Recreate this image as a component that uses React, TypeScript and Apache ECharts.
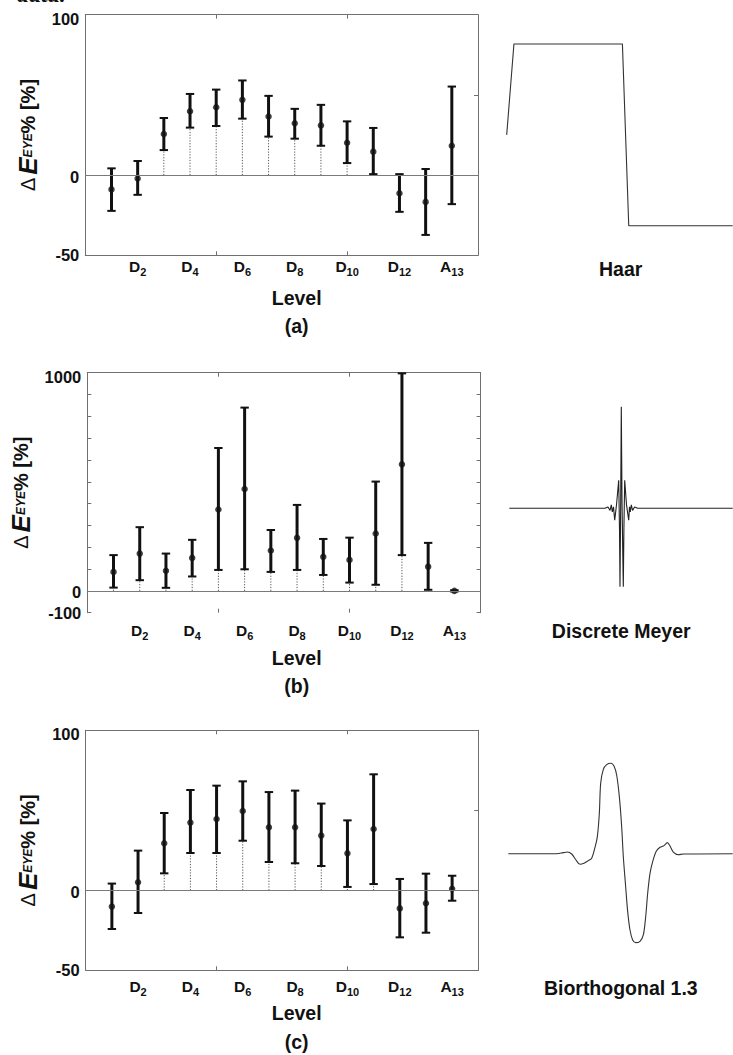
import React, { useEffect, useRef } from "react";
import * as echarts from "echarts";

// ---------- data ----------
const categories = ["D1", "D2", "D3", "D4", "D5", "D6", "D7", "D8", "D9", "D10", "D11", "D12", "D13", "A13"];
const axisSlots = ["", ...categories, ""];
const labelledSlots = [2, 4, 6, 8, 10, 12, 14];
const tickSlots = [5, 10];

// (a) Haar
const meanA = [-8.9, -2.1, 25.6, 39.8, 42.3, 46.9, 36.5, 32.3, 31.0, 20.2, 14.6, -11.3, -16.7, 18.3];
const lowA = [-22.3, -12.3, 15.6, 29.6, 30.6, 35.2, 24.0, 22.7, 18.3, 7.5, 0.6, -22.9, -37.3, -18.1];
const highA = [4.2, 8.8, 35.6, 50.6, 53.3, 59.0, 49.4, 41.3, 43.8, 33.5, 29.4, 0.6, 3.8, 55.2];
const yLabelsA = [-50, 0, 100];

// (b) Discrete Meyer
const meanB = [87, 171, 92, 151, 373, 467, 185, 243, 156, 142, 263, 580, 111, 0];
const lowB = [15, 49, 14, 66, 96, 99, 87, 96, 73, 38, 28, 164, 5, -3];
const highB = [164, 292, 171, 234, 655, 840, 279, 394, 238, 244, 501, 997, 220, 3];
const yLabelsB = [-100, 0, 1000];

// (c) Biorthogonal 1.3
const meanC = [-10.2, 5.0, 29.4, 42.3, 44.6, 49.6, 39.4, 39.4, 34.2, 23.1, 38.3, -11.3, -8.1, 1.0];
const lowC = [-24.2, -14.2, 10.6, 23.3, 23.3, 31.0, 17.7, 16.9, 15.2, 2.1, 3.9, -29.4, -26.5, -6.5];
const highC = [4.2, 24.8, 48.3, 62.7, 65.4, 68.1, 61.4, 62.3, 54.2, 43.7, 72.5, 7.1, 10.4, 9.1];
const yLabelsC = [-50, 0, 100];

// wavelet shapes (normalised x, psi value)
const haarPsi = [[0, 0], [0.032, 1], [0.512, 1], [0.54, -1], [1, -1]];
const meyerPsi = [
  [0, 0], [0.4284, 0], [0.4418, 0.02], [0.4508, -0.03], [0.4566, 0.05], [0.4611, -0.05],
  [0.4664, 0.02], [0.4718, -0.17], [0.4799, 0.05], [0.4897, 0.4], [0.4933, -0.3],
  [0.4955, -1.12], [0.4987, 0.1], [0.5013, 1.45], [0.5045, 0.1], [0.5103, -1.12],
  [0.513, -0.3], [0.5166, 0.4], [0.5246, 0.05], [0.5345, -0.17], [0.538, 0.02],
  [0.5416, -0.05], [0.5461, 0.05], [0.5519, -0.03], [0.5609, 0.02], [0.5743, 0], [1, 0],
];
const bior13Psi = [
  [0, 0], [0.2155, 0], [0.2452, 0.017], [0.2631, 0.027], [0.2824, -0.005], [0.3017, -0.102],
  [0.3195, -0.171], [0.3373, -0.155], [0.3567, -0.112], [0.3715, -0.075], [0.3864, 0.103],
  [0.3968, 0.275], [0.4057, 0.651], [0.4116, 1.135], [0.4235, 1.361], [0.4384, 1.436],
  [0.4562, 1.458], [0.471, 1.415], [0.4829, 1.269], [0.4948, 0.92], [0.5052, 0.436],
  [0.5126, -0.048], [0.523, -0.532], [0.532, -0.935], [0.5423, -1.231], [0.5542, -1.392],
  [0.5676, -1.435], [0.5869, -1.413], [0.6017, -1.311], [0.6122, -1.016], [0.6211, -0.639],
  [0.6315, -0.317], [0.6434, -0.129], [0.6582, 0.033], [0.676, 0.103], [0.6939, 0.13],
  [0.7087, 0.178], [0.7206, 0.124], [0.7354, 0.027], [0.7577, -0.016], [0.78, -0.005], [1, 0],
];

// ---------- styling ----------
const FONT = '"Liberation Sans", Arial, Helvetica, sans-serif';
const INK = "#111111";
const FRAME = "#707070";

const titleRich = {
  d: { fontSize: 20, fontFamily: FONT, color: INK, padding: [0, 3, 0, 0] },
  e: { fontSize: 26, fontFamily: FONT, fontWeight: "bold", fontStyle: "italic", color: INK },
  s: { fontSize: 12, fontFamily: FONT, fontWeight: "bold", fontStyle: "italic", color: INK },
  p: { fontSize: 20, fontFamily: FONT, fontWeight: "bold", color: INK },
};

const catRich = {
  b: { fontSize: 15.5, fontFamily: FONT, fontWeight: "bold", color: INK, verticalAlign: "top" },
  s: { fontSize: 11, fontFamily: FONT, fontWeight: "bold", color: INK, verticalAlign: "top", padding: [8, 0, 0, 0] },
};

const tickText = { fontSize: 16.5, fontWeight: "bold", fontFamily: FONT, color: INK };
const yRich = {
  top: { ...tickText, padding: [8, 0, 0, 0] },
  mid: { ...tickText, padding: [3, 0, 0, 0] },
  bot: { ...tickText },
};

export default function App() {
  const ref = useRef<HTMLDivElement>(null);

  useEffect(() => {
    if (!ref.current) return;
    const chart = echarts.init(ref.current, null, { renderer: "svg" });

    const panels = [
      { grid: { left: 85.3, top: 14.7, width: 392.7, height: 240.6 }, mean: meanA, low: lowA, high: highA,
        min: -50, max: 100, step: 50, labels: yLabelsA, leftTicks: false, bottomLine: true, margin: 3, nameGap: 44 },
      { grid: { left: 87.3, top: 372.7, width: 393.3, height: 240 }, mean: meanB, low: lowB, high: highB,
        min: -100, max: 1000, step: 100, labels: yLabelsB, leftTicks: true, bottomLine: false, margin: 10, nameGap: 46 },
      { grid: { left: 85.7, top: 730.3, width: 392.6, height: 240 }, mean: meanC, low: lowC, high: highC,
        min: -50, max: 100, step: 50, labels: yLabelsC, leftTicks: false, bottomLine: true, margin: 8, nameGap: 44 },
    ];

    const grids: any[] = [];
    const xAxis: any[] = [];
    const yAxis: any[] = [];
    const series: any[] = [];

    const tickCfg = {
      show: true, inside: true, length: 4,
      interval: (i: number) => tickSlots.includes(i),
      lineStyle: { color: FRAME, width: 1 },
    };

    panels.forEach((p, k) => {
      grids.push({ ...p.grid, outerBoundsMode: "none" });
      xAxis.push({
        gridIndex: k, type: "category", data: axisSlots, boundaryGap: false, position: "bottom",
        axisLine: { show: p.bottomLine, onZero: false, lineStyle: { color: FRAME, width: 1 } },
        axisTick: tickCfg,
        axisLabel: {
          interval: (i: number) => labelledSlots.includes(i),
          margin: p.margin,
          formatter: (v: string) => (v ? `{b|${v[0]}}{s|${v.slice(1)}}` : ""),
          rich: catRich,
        },
        splitLine: { show: false },
      });
      xAxis.push({
        gridIndex: k, type: "category", data: axisSlots, boundaryGap: false, position: "top",
        axisLine: { show: true, onZero: false, lineStyle: { color: FRAME, width: 1 } },
        axisTick: tickCfg,
        axisLabel: { show: false },
        splitLine: { show: false },
      });
      yAxis.push({
        gridIndex: k, type: "value", min: p.min, max: p.max, interval: p.step, position: "left",
        axisLine: { show: true, onZero: false, lineStyle: { color: FRAME, width: 1 } },
        axisTick: { show: p.leftTicks, inside: true, length: 4, lineStyle: { color: FRAME } },
        axisLabel: {
          formatter: (v: number) => {
            if (!p.labels.includes(v)) return "";
            const key = v === p.max ? "top" : v === 0 ? "mid" : "bot";
            return `{${key}|${v}}`;
          },
          ...tickText, margin: 6, rich: yRich,
        },
        splitLine: { show: false },
        name: "{d|Δ}{e|E}{s|EYE}{p|% [%]}",
        nameLocation: "middle", nameRotate: 90, nameGap: p.nameGap,
        nameTextStyle: { rich: titleRich },
      });
      yAxis.push({
        gridIndex: k, type: "value", min: p.min, max: p.max, interval: p.step, position: "right",
        axisLine: { show: true, onZero: false, lineStyle: { color: FRAME, width: 1 } },
        axisTick: { show: true, inside: true, length: 4, lineStyle: { color: FRAME } },
        axisLabel: { show: false },
        splitLine: { show: false },
      });

      const xi = 2 * k;
      const yi = 2 * k;
      // dotted stems from zero to the mean, plus the zero line
      series.push({
        type: "custom", xAxisIndex: xi, yAxisIndex: yi, z: 2, clip: false,
        encode: { x: 0, y: 1 },
        data: p.mean.map((m, i) => [i + 1, m]),
        renderItem: (params: any, api: any) => {
          const x = api.value(0);
          const a = api.coord([x, 0]);
          const b = api.coord([x, api.value(1)]);
          return {
            type: "line",
            shape: { x1: a[0], y1: a[1], x2: b[0], y2: b[1] },
            style: { stroke: "#555555", lineWidth: 1, lineDash: [1.2, 1.6] },
          };
        },
        markLine: {
          silent: true, symbol: ["none", "none"], animation: false,
          label: { show: false },
          lineStyle: { color: "#7a7a7a", width: 1, type: "solid" },
          data: [{ yAxis: 0 }],
        },
      });
      // error bars
      series.push({
        type: "custom", xAxisIndex: xi, yAxisIndex: yi, z: 3, clip: false,
        encode: { x: 0, y: [1, 2] },
        data: p.low.map((lo, i) => [i + 1, lo, p.high[i]]),
        renderItem: (params: any, api: any) => {
          const x = api.value(0);
          const lo = api.coord([x, api.value(1)]);
          const hi = api.coord([x, api.value(2)]);
          const cap = 4.2;
          return {
            type: "group",
            children: [
              { type: "line", shape: { x1: lo[0], y1: lo[1], x2: hi[0], y2: hi[1] }, style: { stroke: INK, lineWidth: 3 } },
              { type: "line", shape: { x1: lo[0] - cap, y1: lo[1], x2: lo[0] + cap, y2: lo[1] }, style: { stroke: INK, lineWidth: 2 } },
              { type: "line", shape: { x1: hi[0] - cap, y1: hi[1], x2: hi[0] + cap, y2: hi[1] }, style: { stroke: INK, lineWidth: 2 } },
            ],
          };
        },
      });
      // mean markers
      series.push({
        type: "scatter", xAxisIndex: xi, yAxisIndex: yi, z: 4,
        symbol: "circle", symbolSize: 6.5,
        itemStyle: { color: INK },
        data: p.mean.map((m, i) => [i + 1, m]),
      });
    });

    // wavelet shape panels
    const waves = [
      { grid: { left: 506.7, top: 44, width: 226, height: 181.7 }, min: -1, max: 1, data: haarPsi, color: "#333333" },
      { grid: { left: 509.3, top: 403.3, width: 223.4, height: 210 }, min: -1.5, max: 1.5, data: meyerPsi, color: "#222222" },
      { grid: { left: 508.3, top: 760.7, width: 224.4, height: 186 }, min: -1.5, max: 1.5, data: bior13Psi, color: "#333333" },
    ];
    waves.forEach((w, j) => {
      const gi = 3 + j;
      grids.push({ ...w.grid, outerBoundsMode: "none" });
      xAxis.push({ gridIndex: gi, type: "value", min: 0, max: 1, show: false });
      yAxis.push({ gridIndex: gi, type: "value", min: w.min, max: w.max, show: false });
      series.push({
        type: "line", xAxisIndex: 6 + j, yAxisIndex: 6 + j, data: w.data,
        showSymbol: false, symbol: "none", clip: false, smooth: j === 2 ? 0.3 : false,
        lineStyle: { color: w.color, width: 1.1 },
      });
    });

    const bigText = (text: string, x: number, y: number) => ({
      type: "text", x, y, silent: true,
      style: {
        text, fill: INK, fontFamily: FONT, fontWeight: "bold", fontSize: 19.5,
        align: "center", verticalAlign: "middle", textAlign: "center", textVerticalAlign: "middle",
      },
    });

    const graphic = [
      {
        type: "text", x: 17, y: -6.5, silent: true,
        style: {
          text: "data.", fill: INK, fontFamily: '"Liberation Serif", serif', fontWeight: "bold",
          fontStyle: "italic", fontSize: 24, lineHeight: 12, align: "left", verticalAlign: "middle",
          textAlign: "left", textVerticalAlign: "middle",
        },
      },
      bigText("Level", 296.7, 298.3),
      bigText("(a)", 296.7, 326),
      bigText("Level", 296.7, 657.5),
      bigText("(b)", 296.7, 686),
      bigText("Level", 296.7, 1013.3),
      bigText("(c)", 296.7, 1042),
      bigText("Haar", 620.7, 269.3),
      bigText("Discrete Meyer", 621.2, 630.8),
      bigText("Biorthogonal 1.3", 620.8, 987.5),
    ];

    chart.setOption({
      animation: false,
      backgroundColor: "#ffffff",
      grid: grids,
      xAxis,
      yAxis,
      series,
      graphic,
    });

    return () => chart.dispose();
  }, []);

  return <div ref={ref} style={{ position: "absolute", left: 0, top: 0, width: 733, height: 1055 }} />;
}
